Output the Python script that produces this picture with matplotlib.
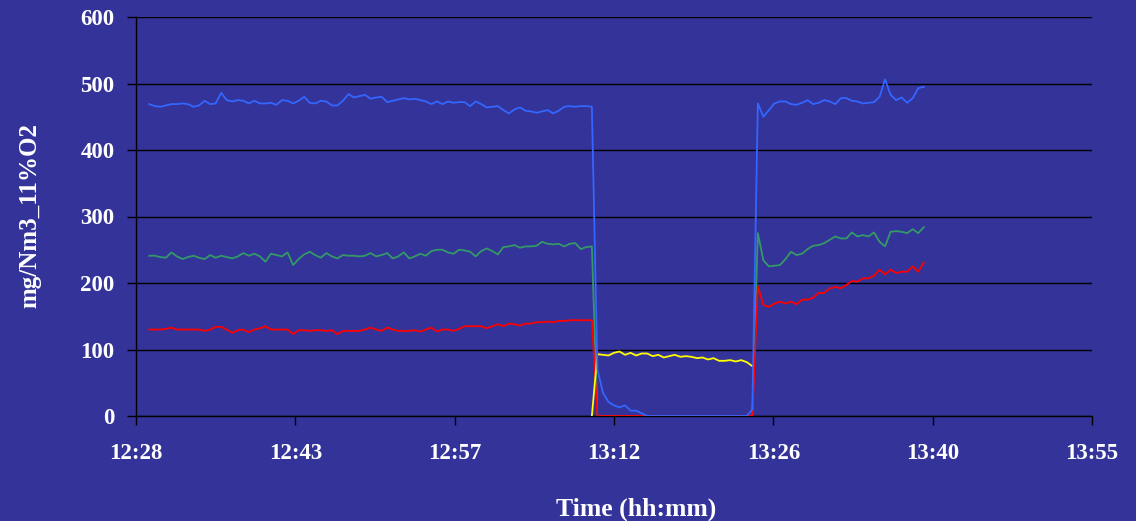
import numpy as np
import matplotlib
matplotlib.use("Agg")
import matplotlib.pyplot as plt

# ---- data -------------------------------------------------------------
# logger samples every 30 s starting at 12:30:00 (minutes after midnight)
t_start_min = 750.0
t_step_min = 0.5
n_samples = 141

blue = [469,466,465,467,469,469,470,469,465,467,
        474,469,470,486,475,473,475,474,470,474,
        470,470,471,468,475,474,470,474,480,471,
        470,474,473,467,467,474,484,479,481,483,
        477,479,480,472,474,476,478,476,477,475,
        473,469,473,469,473,471,472,472,466,473,
        469,464,465,466,460,455,461,464,459,458,
        456,458,460,455,459,465,466,465,466,466,
        465,
        70,35,21,16,13,16,8,8,4,0,
        0,0,0,0,0,0,0,0,0,0,0,0,0,0,0,0,0,0,
        10,470,
        450,460,470,473,473,469,468,471,475,469,
        471,475,473,469,478,478,474,473,470,471,
        472,480,506,483,475,479,471,478,493,495]

green = [241,241,239,238,246,240,236,239,241,238,
         236,242,238,241,239,237,240,245,241,244,
         240,232,244,242,240,246,227,236,243,247,
         242,238,245,240,237,242,241,241,240,241,
         245,240,242,245,237,240,246,237,240,244,
         241,248,250,250,246,244,250,249,247,240,
         248,252,248,243,254,255,257,253,255,255,
         256,262,259,258,259,255,259,260,251,254,
         255,
         0,0,0,0,0,0,0,0,0,0,0,0,0,0,0,0,0,0,0,0,0,0,0,0,0,0,0,0,
         0,275,
         234,225,226,227,236,247,242,244,251,256,
         257,260,265,270,267,267,276,270,272,270,
         276,262,255,277,278,277,275,281,275,284]

red = [130,130,130,131,133,130,130,130,130,130,
       128,130,134,134,130,125,129,130,126,130,
       132,135,130,130,130,130,123,129,129,128,
       129,129,128,129,123,128,128,128,128,130,
       133,130,128,133,130,128,128,128,129,127,
       130,133,127,130,130,128,131,135,135,135,
       135,132,135,138,135,139,138,136,139,139,
       141,141,142,141,143,143,144,144,144,144,
       144,
       0,0,0,0,0,0,0,0,0,0,0,0,0,0,0,0,0,0,0,0,0,0,0,0,0,0,0,0,0,
       195,
       167,164,169,172,169,172,168,175,175,178,
       185,185,192,194,192,197,203,202,207,207,
       211,220,213,220,215,217,217,225,217,231]

yellow_first_index = 80
yellow_values = [0,
                 93,92,91,95,97,92,95,91,94,94,
                 90,92,88,90,92,89,90,89,87,88,
                 85,87,83,83,84,82,84,81,75]

x_tick_days = [0.52, 0.53, 0.54, 0.55, 0.56, 0.57, 0.58]
x_tick_labels = ["12:28", "12:43", "12:57", "13:12", "13:26", "13:40", "13:55"]
y_ticks = [0, 100, 200, 300, 400, 500, 600]

# ---- figure -----------------------------------------------------------
BG = "#333399"
plt.rcParams['font.family'] = ['Liberation Serif', 'DejaVu Serif']
plt.rcParams['font.weight'] = 'bold'

fig = plt.figure(figsize=(11.36, 5.21), dpi=100, facecolor=BG)
W, H = 1136, 521
ax = fig.add_axes([136 / W, 1 - 416 / H, (1092 - 136) / W, (416 - 17) / H])
ax.set_facecolor(BG)

t = t_start_min + t_step_min * np.arange(n_samples)
yellow = np.full(n_samples, np.nan)
yellow[yellow_first_index:yellow_first_index + len(yellow_values)] = yellow_values

lw = 1.3
ax.plot(t, green, color="#339966", lw=lw, zorder=3)
ax.plot(t, red, color="#FF0000", lw=lw, zorder=4)
ax.plot(t, yellow, color="#FFFF00", lw=lw, zorder=5)
ax.plot(t, blue, color="#3366FF", lw=lw, zorder=6)

ticks_min = [d * 1440 for d in x_tick_days]
ax.set_xlim(ticks_min[0], ticks_min[-1])
ax.set_ylim(0, 600)
ax.set_xticks(ticks_min)
ax.set_xticklabels(x_tick_labels)
ax.set_yticks(y_ticks)
ax.set_yticklabels([str(v) for v in y_ticks])

ax.grid(axis='y', color='black', lw=1.0, zorder=1)
ax.set_axisbelow(True)
for s in ['top', 'right']:
    ax.spines[s].set_visible(False)
for s in ['left', 'bottom']:
    ax.spines[s].set_color('black')
    ax.spines[s].set_linewidth(1.0)
    ax.spines[s].set_zorder(2)

ax.tick_params(axis='both', colors='black', direction='out', length=6.5, width=1.0,
               labelcolor='white', labelsize=16.5)
ax.tick_params(axis='x', pad=13)
ax.tick_params(axis='y', pad=9)
for lab in ax.get_xticklabels() + ax.get_yticklabels():
    lab.set_fontweight('bold')

fig.text(30 / W, 1 - 216 / H, "mg/Nm3_11%O2", rotation=90, color='white',
         fontsize=18, fontweight='bold', ha='center', va='center')
fig.text(636 / W, 1 - 509 / H, "Time (hh:mm)", color='white',
         fontsize=18.5, fontweight='bold', ha='center', va='center')

fig.savefig("out.png", dpi=100, facecolor=BG)
